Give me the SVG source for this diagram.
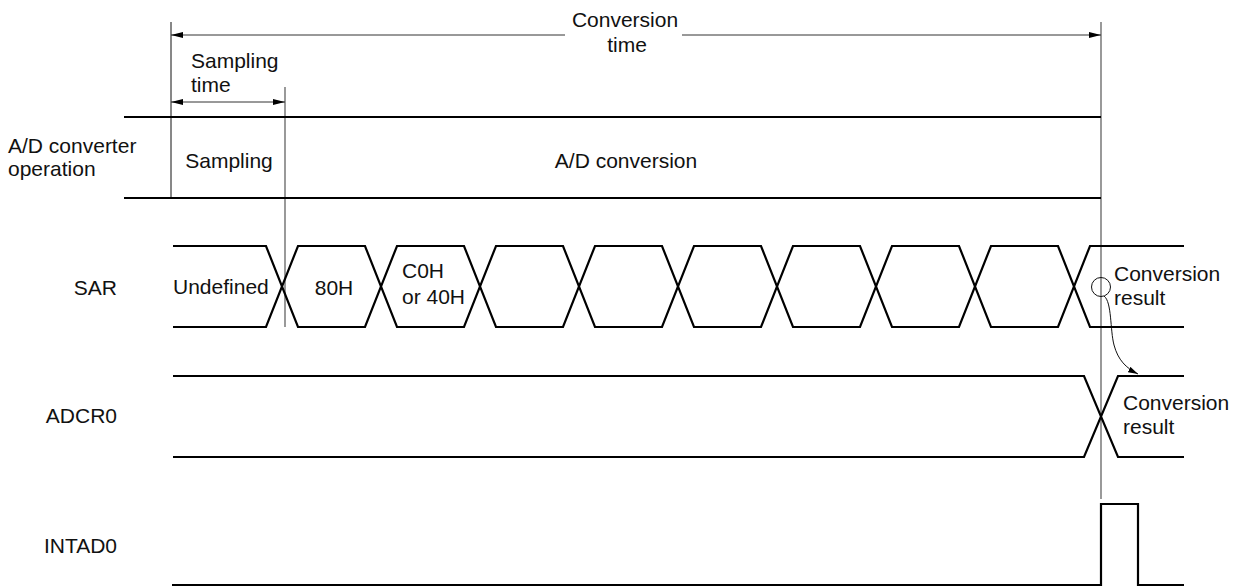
<svg xmlns="http://www.w3.org/2000/svg" width="1241" height="586" viewBox="0 0 1241 586">
<style>
text{font-family:"Liberation Sans",Arial,sans-serif;font-size:21px;fill:#111}
.sig{fill:none;stroke:#000;stroke-width:2.2}
.thin{fill:none;stroke:#111;stroke-width:1}
.gray{fill:none;stroke:#808080;stroke-width:1.6}
.arr{fill:none;stroke:#333;stroke-width:1}
</style>
<defs>
<marker id="ah" viewBox="0 0 12 6" refX="12" refY="3" markerWidth="12" markerHeight="6" markerUnits="userSpaceOnUse" orient="auto-start-reverse">
<path d="M0,0 L12,3 L0,6 Z" fill="#000"/>
</marker>
<marker id="ah2" viewBox="0 0 10 6" refX="10" refY="3" markerWidth="10" markerHeight="6" markerUnits="userSpaceOnUse" orient="auto">
<path d="M0,0 L10,3 L0,6 Z" fill="#000"/>
</marker>
</defs>
<g id="connectors">
<line class="thin" x1="171" y1="22" x2="171" y2="198"/>
<line class="gray" x1="285" y1="87" x2="285" y2="327"/>
<line class="gray" x1="1101" y1="22" x2="1101" y2="499"/>
<line class="arr" x1="171" y1="35" x2="565" y2="35" marker-start="url(#ah)"/>
<line class="arr" x1="682" y1="35" x2="1101" y2="35" marker-end="url(#ah)"/>
<line class="arr" x1="171" y1="102" x2="285" y2="102" marker-start="url(#ah)" marker-end="url(#ah)"/>
<circle class="thin" cx="1101" cy="287" r="9.5"/>
<path class="thin" d="M1104,296 C1112,302 1110,330 1114,345 C1118,360 1126,368 1138,374" marker-end="url(#ah2)"/>
</g>
<g id="labels">
<text x="625" y="27" text-anchor="middle">Conversion</text>
<text x="627" y="52" text-anchor="middle">time</text>
<text x="191" y="68">Sampling</text>
<text x="191" y="92">time</text>
<text x="8" y="153">A/D converter</text>
<text x="8" y="176">operation</text>
<text x="117" y="295" text-anchor="end">SAR</text>
<text x="117" y="423" text-anchor="end">ADCR0</text>
<text x="117" y="553" text-anchor="end">INTAD0</text>
</g>
<g id="adc-operation">
<line class="sig" x1="124" y1="117" x2="1101" y2="117"/>
<line class="sig" x1="124" y1="198" x2="1101" y2="198"/>
<text x="229" y="168" text-anchor="middle">Sampling</text>
<text x="626" y="168" text-anchor="middle">A/D conversion</text>
</g>
<g id="sar">
<path class="sig" d="M173,246 H266 L298,327 H365 L397,246 H464 L496,327 H563 L595,246 H662 L694,327 H761 L793,246 H860 L892,327 H959 L991,246 H1058 L1090,327 H1184"/>
<path class="sig" d="M173,327 H266 L298,246 H365 L397,327 H464 L496,246 H563 L595,327 H662 L694,246 H761 L793,327 H860 L892,246 H959 L991,327 H1058 L1090,246 H1184"/>
<text x="173" y="294">Undefined</text>
<text x="334" y="295" text-anchor="middle">80H</text>
<text x="402" y="278">C0H</text>
<text x="402" y="304">or 40H</text>
<text x="1114" y="281">Conversion</text>
<text x="1114" y="305">result</text>
</g>
<g id="adcr0">
<path class="sig" d="M173,376 H1084 L1118,457 H1184"/>
<path class="sig" d="M173,457 H1084 L1118,376 H1184"/>
<text x="1123" y="410">Conversion</text>
<text x="1123" y="434">result</text>
</g>
<g id="intad0">
<path class="sig" d="M172,585 H1101 V504 H1138 V585 H1184"/>
</g>
</svg>
